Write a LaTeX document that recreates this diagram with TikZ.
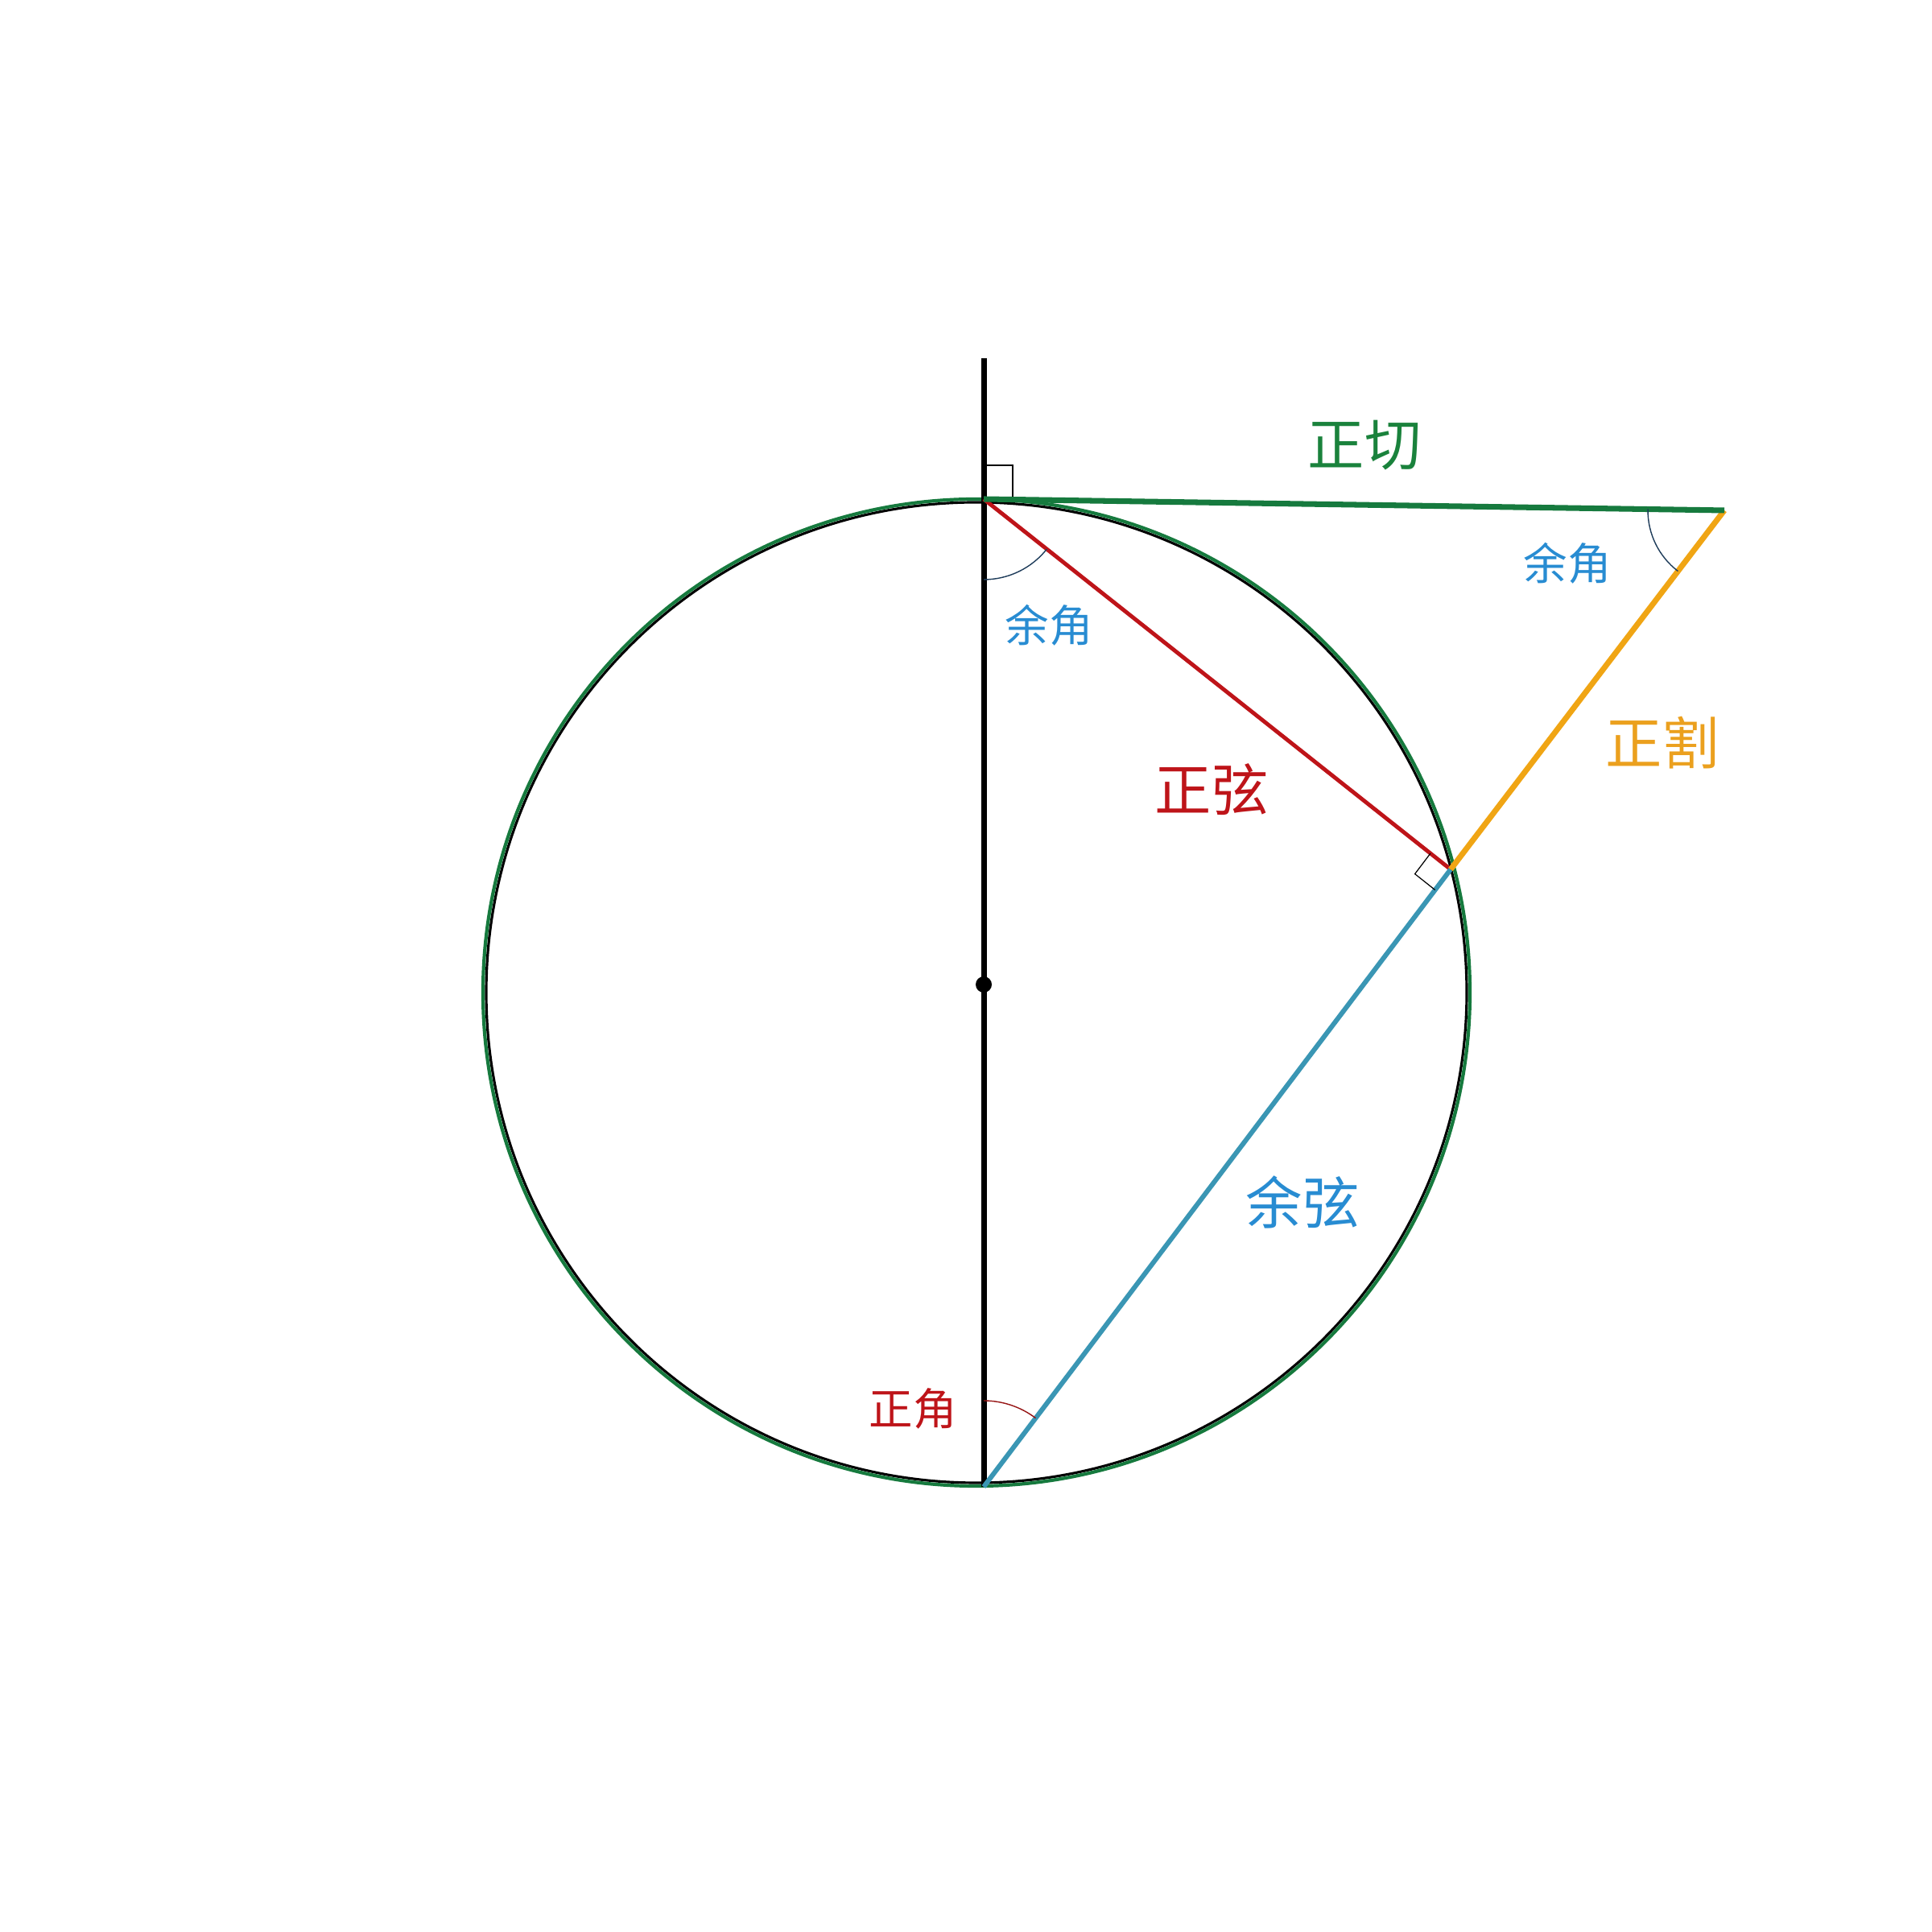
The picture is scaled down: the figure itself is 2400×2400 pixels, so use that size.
\documentclass[tikz,border=0pt]{standalone}
\usepackage{fontspec}
\newfontfamily\cjk{Noto Sans CJK SC}
\usetikzlibrary{calc}
\definecolor{cgreen}{RGB}{22,122,62}
\definecolor{tgreen}{RGB}{26,130,60}
\definecolor{cred}{RGB}{190,20,25}
\definecolor{cblue}{RGB}{58,150,180}
\definecolor{tblue}{RGB}{40,140,210}
\definecolor{corange}{RGB}{240,165,20}
\definecolor{torange}{RGB}{235,160,30}
\definecolor{cnavy}{RGB}{30,60,90}
\definecolor{darkred}{RGB}{150,20,20}
\begin{document}
\begin{tikzpicture}[x=0.01cm,y=0.01cm,
  biglbl/.style={font=\cjk\fontsize{20}{24}\selectfont, inner sep=0pt},
  smalllbl/.style={font=\cjk\fontsize{15.5}{18}\selectfont, inner sep=0pt},
  anglearc/.style={line width=0.4pt},
  rightmark/.style={black, line width=0.35pt}]
\useasboundingbox (0,0) rectangle (2400,2400);
\coordinate (O) at (1213,1167);
\coordinate (T) at (1222,1780);
\coordinate (B) at (1222,553);
\coordinate (P) at (1802,1320);
\coordinate (Q) at (2142,1766);
\coordinate (C) at (1222,1177);
\coordinate (V) at (1222,1955);
% circle (black with green overlay)
\draw[black, line width=0.9pt] (O) circle (609);
\draw[cgreen, line width=1.2pt] (O) circle (613);
% vertical diameter
\draw[black, line width=2pt] (V) -- (B);
\fill[black] (C) circle (10);
% right angle at T
\draw[rightmark] (T) -- ++(0,42) -- ++(36,0) -- ++(0,-42);
% sine chord
\draw[cred, line width=1.4pt] (T) -- (P);
% cosine chord
\draw[cblue, line width=1.7pt] (B) -- (P);
% secant
\draw[corange, line width=2pt] (P) -- (Q);
% tangent
\draw[cgreen, line width=2pt] (T) -- (Q);
% right angle at P
\coordinate (PA) at ($(P)!0.32cm!(T)$);
\coordinate (PB) at ($(P)!0.32cm!(B)$);
\coordinate (PC) at ($(PA)+(PB)-(P)$);
\draw[rightmark] (PA) -- (PC) -- (PB);
% angle arcs
\draw[cnavy, anglearc] (T) ++(270:100) arc[start angle=270, end angle=321.6, radius=100];
\draw[cnavy, anglearc] (Q) ++(179.1:95) arc[start angle=179.1, end angle=232.7, radius=95];
\draw[darkred, anglearc] (B) ++(90:107) arc[start angle=90, end angle=52.9, radius=107];
% labels
\node[biglbl, text=tgreen] (ltan) at (1695,1847) {正切};
\node[biglbl, text=cred] (lsin) at (1505,1419) {正弦};
\node[biglbl, text=torange] (lsec) at (2065,1477) {正割};
\node[biglbl, text=tblue] (lcos) at (1618,907) {余弦};
\node[smalllbl, text=tblue] (lcq) at (1947,1700) {余角};
\node[smalllbl, text=tblue] (lct) at (1303,1623) {余角};
\node[smalllbl, text=cred] (lzb) at (1134,650) {正角};
\end{tikzpicture}
\end{document}
